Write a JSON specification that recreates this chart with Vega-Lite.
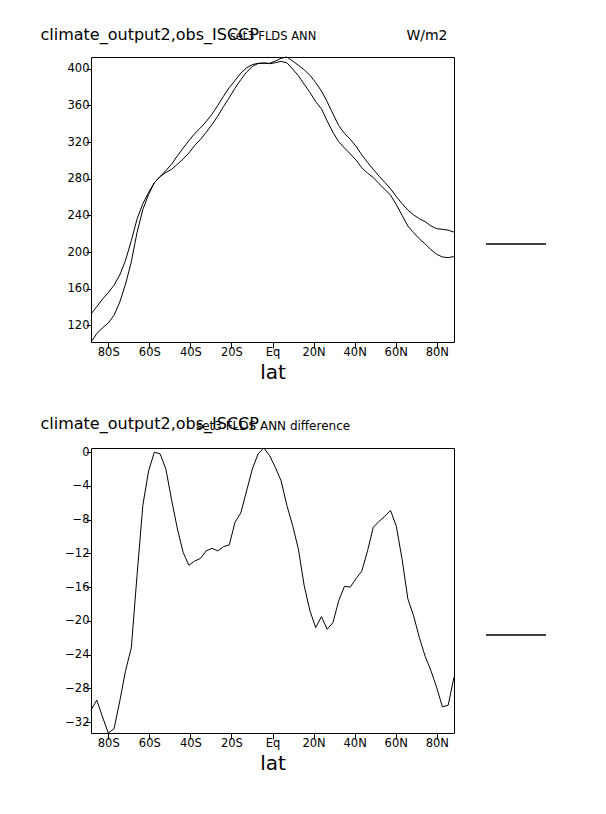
{
  "$schema": "https://vega.github.io/schema/vega-lite/v6.json",
  "background": "white",
  "padding": {"left": 40, "top": 26, "right": 5, "bottom": 5},
  "config": {
    "view": {"stroke": null},
    "font": "DejaVu Sans",
    "axis": {"grid": false, "domainColor": "black", "domainWidth": 1, "tickColor": "black", "labelColor": "black", "titleColor": "black", "labelFontSize": 11.5, "titleFontWeight": "normal", "labelFont": "DejaVu Sans", "titleFont": "DejaVu Sans"}
  },
  "datasets": {
    "top": [
      {"lat": -88.4, "obs": 132.4, "model": 101.8},
      {"lat": -85.59, "obs": 140.3, "model": 110.9},
      {"lat": -82.79, "obs": 148.7, "model": 117.3},
      {"lat": -79.98, "obs": 155.8, "model": 122.5},
      {"lat": -77.18, "obs": 163.8, "model": 131.0},
      {"lat": -74.37, "obs": 175.0, "model": 145.5},
      {"lat": -71.56, "obs": 191.0, "model": 165.1},
      {"lat": -68.76, "obs": 212.5, "model": 189.3},
      {"lat": -65.95, "obs": 236.2, "model": 221.7},
      {"lat": -63.15, "obs": 252.7, "model": 246.4},
      {"lat": -60.34, "obs": 265.1, "model": 262.9},
      {"lat": -57.53, "obs": 275.7, "model": 275.7},
      {"lat": -54.73, "obs": 282.5, "model": 282.3},
      {"lat": -51.92, "obs": 288.9, "model": 286.9},
      {"lat": -49.12, "obs": 296.0, "model": 290.3},
      {"lat": -46.31, "obs": 305.0, "model": 295.9},
      {"lat": -43.50, "obs": 313.5, "model": 301.6},
      {"lat": -40.70, "obs": 321.6, "model": 308.2},
      {"lat": -37.89, "obs": 329.3, "model": 316.4},
      {"lat": -35.09, "obs": 335.5, "model": 322.9},
      {"lat": -32.28, "obs": 342.5, "model": 330.8},
      {"lat": -29.47, "obs": 350.5, "model": 339.1},
      {"lat": -26.67, "obs": 360.0, "model": 348.3},
      {"lat": -23.86, "obs": 370.0, "model": 358.8},
      {"lat": -21.06, "obs": 379.5, "model": 368.5},
      {"lat": -18.25, "obs": 387.2, "model": 378.9},
      {"lat": -15.44, "obs": 395.3, "model": 388.1},
      {"lat": -12.64, "obs": 401.0, "model": 396.4},
      {"lat": -9.83, "obs": 404.6, "model": 402.6},
      {"lat": -7.03, "obs": 406.0, "model": 405.8},
      {"lat": -4.22, "obs": 406.0, "model": 406.5},
      {"lat": -1.41, "obs": 406.0, "model": 405.6},
      {"lat": 1.39, "obs": 408.5, "model": 406.7},
      {"lat": 4.20, "obs": 411.5, "model": 408.1},
      {"lat": 7.00, "obs": 412.9, "model": 406.6},
      {"lat": 9.81, "obs": 408.5, "model": 399.8},
      {"lat": 12.62, "obs": 403.9, "model": 392.4},
      {"lat": 15.42, "obs": 399.0, "model": 383.2},
      {"lat": 18.23, "obs": 393.0, "model": 374.2},
      {"lat": 21.03, "obs": 385.0, "model": 364.2},
      {"lat": 23.84, "obs": 375.8, "model": 356.3},
      {"lat": 26.65, "obs": 364.0, "model": 343.0},
      {"lat": 29.45, "obs": 350.8, "model": 330.6},
      {"lat": 32.26, "obs": 338.0, "model": 320.4},
      {"lat": 35.06, "obs": 329.5, "model": 313.6},
      {"lat": 37.87, "obs": 323.1, "model": 307.1},
      {"lat": 40.68, "obs": 315.4, "model": 300.4},
      {"lat": 43.48, "obs": 306.1, "model": 292.0},
      {"lat": 46.29, "obs": 297.8, "model": 286.1},
      {"lat": 49.09, "obs": 290.3, "model": 281.4},
      {"lat": 51.90, "obs": 282.8, "model": 274.6},
      {"lat": 54.71, "obs": 276.0, "model": 268.4},
      {"lat": 57.51, "obs": 269.0, "model": 262.1},
      {"lat": 60.32, "obs": 260.5, "model": 251.7},
      {"lat": 63.12, "obs": 252.8, "model": 240.1},
      {"lat": 65.93, "obs": 245.8, "model": 228.4},
      {"lat": 68.73, "obs": 240.5, "model": 221.1},
      {"lat": 71.54, "obs": 236.4, "model": 214.4},
      {"lat": 74.35, "obs": 233.1, "model": 208.9},
      {"lat": 77.15, "obs": 228.5, "model": 202.6},
      {"lat": 79.96, "obs": 225.5, "model": 197.6},
      {"lat": 82.76, "obs": 224.8, "model": 194.6},
      {"lat": 85.57, "obs": 223.9, "model": 193.9},
      {"lat": 88.37, "obs": 221.8, "model": 195.1}
    ],
    "diff": [
      {"lat": -88.4, "diff": -30.6},
      {"lat": -85.59, "diff": -29.4},
      {"lat": -82.79, "diff": -31.4},
      {"lat": -79.98, "diff": -33.3},
      {"lat": -77.18, "diff": -32.8},
      {"lat": -74.37, "diff": -29.5},
      {"lat": -71.56, "diff": -25.9},
      {"lat": -68.76, "diff": -23.2},
      {"lat": -65.95, "diff": -14.5},
      {"lat": -63.15, "diff": -6.3},
      {"lat": -60.34, "diff": -2.2},
      {"lat": -57.53, "diff": 0.0},
      {"lat": -54.73, "diff": -0.2},
      {"lat": -51.92, "diff": -2.0},
      {"lat": -49.12, "diff": -5.7},
      {"lat": -46.31, "diff": -9.1},
      {"lat": -43.50, "diff": -11.9},
      {"lat": -40.70, "diff": -13.4},
      {"lat": -37.89, "diff": -12.9},
      {"lat": -35.09, "diff": -12.6},
      {"lat": -32.28, "diff": -11.7},
      {"lat": -29.47, "diff": -11.4},
      {"lat": -26.67, "diff": -11.7},
      {"lat": -23.86, "diff": -11.2},
      {"lat": -21.06, "diff": -11.0},
      {"lat": -18.25, "diff": -8.3},
      {"lat": -15.44, "diff": -7.2},
      {"lat": -12.64, "diff": -4.6},
      {"lat": -9.83, "diff": -2.0},
      {"lat": -7.03, "diff": -0.2},
      {"lat": -4.22, "diff": 0.5},
      {"lat": -1.41, "diff": -0.4},
      {"lat": 1.39, "diff": -1.8},
      {"lat": 4.20, "diff": -3.4},
      {"lat": 7.00, "diff": -6.3},
      {"lat": 9.81, "diff": -8.7},
      {"lat": 12.62, "diff": -11.5},
      {"lat": 15.42, "diff": -15.8},
      {"lat": 18.23, "diff": -18.8},
      {"lat": 21.03, "diff": -20.8},
      {"lat": 23.84, "diff": -19.5},
      {"lat": 26.65, "diff": -21.0},
      {"lat": 29.45, "diff": -20.2},
      {"lat": 32.26, "diff": -17.6},
      {"lat": 35.06, "diff": -15.9},
      {"lat": 37.87, "diff": -16.0},
      {"lat": 40.68, "diff": -15.0},
      {"lat": 43.48, "diff": -14.1},
      {"lat": 46.29, "diff": -11.7},
      {"lat": 49.09, "diff": -8.9},
      {"lat": 51.90, "diff": -8.2},
      {"lat": 54.71, "diff": -7.6},
      {"lat": 57.51, "diff": -6.9},
      {"lat": 60.32, "diff": -8.8},
      {"lat": 63.12, "diff": -12.7},
      {"lat": 65.93, "diff": -17.4},
      {"lat": 68.73, "diff": -19.4},
      {"lat": 71.54, "diff": -22.0},
      {"lat": 74.35, "diff": -24.2},
      {"lat": 77.15, "diff": -25.9},
      {"lat": 79.96, "diff": -27.9},
      {"lat": 82.76, "diff": -30.2},
      {"lat": 85.57, "diff": -30.0},
      {"lat": 88.37, "diff": -26.7}
    ]
  },
  "vconcat": [
    {
      "width": 363,
      "height": 285,
      "data": {"name": "top"},
      "layer": [
        {
          "mark": {"type": "line", "strokeWidth": 1},
          "encoding": {
            "x": {"field": "lat", "type": "quantitative",
              "scale": {"domain": [-88.4, 88.4], "nice": false, "zero": false},
              "axis": {"orient": "bottom", "values": [-80, -60, -40, -20, 0, 20, 40, 60, 80],
                "labelExpr": "datum.value < 0 ? (-datum.value) + 'S' : (datum.value > 0 ? datum.value + 'N' : 'Eq')",
                "tickSize": 6, "labelPadding": -2, "title": "lat", "titleFontSize": 20, "titlePadding": 5}},
            "y": {"field": "obs", "type": "quantitative",
              "scale": {"domain": [101.8, 412.9], "nice": false, "zero": false},
              "axis": {"orient": "left", "values": [120, 160, 200, 240, 280, 320, 360, 400],
                "tickSize": 5, "labelPadding": -3,
                "title": "set3 FLDS ANN", "titleAngle": 0, "titleX": 181.5, "titleY": -18, "titleAlign": "center", "titleBaseline": "alphabetic", "titleFontSize": 11.5}},
            "stroke": {"datum": "obs", "scale": {"range": ["black"]},
              "legend": {"orient": "none", "legendX": 394, "legendY": 156, "title": null, "symbolType": "stroke", "symbolSize": 3600, "symbolStrokeWidth": 1.5, "labelExpr": "''", "padding": 0}}
          }
        },
        {
          "mark": {"type": "line", "strokeWidth": 1, "stroke": "black"},
          "encoding": {
            "x": {"field": "lat", "type": "quantitative",
              "axis": {"orient": "top", "labels": false, "ticks": false,
                "title": "climate_output2,obs_ISCCP", "titleX": -51, "titleY": -18, "titleAlign": "left", "titleBaseline": "alphabetic", "titleFontSize": 16}},
            "y": {"field": "model", "type": "quantitative",
              "axis": {"orient": "right", "labels": false, "ticks": false,
                "title": "W/m2", "titleAngle": 0, "titleX": -7, "titleY": -18, "titleAlign": "right", "titleBaseline": "alphabetic", "titleFontSize": 14}}
          }
        }
      ],
      "resolve": {"axis": {"x": "independent", "y": "independent"}}
    },
    {
      "width": 363,
      "height": 285,
      "data": {"name": "diff"},
      "layer": [
        {
          "mark": {"type": "line", "strokeWidth": 1},
          "encoding": {
            "x": {"field": "lat", "type": "quantitative",
              "scale": {"domain": [-88.4, 88.4], "nice": false, "zero": false},
              "axis": {"orient": "bottom", "values": [-80, -60, -40, -20, 0, 20, 40, 60, 80],
                "labelExpr": "datum.value < 0 ? (-datum.value) + 'S' : (datum.value > 0 ? datum.value + 'N' : 'Eq')",
                "tickSize": 6, "labelPadding": -2, "title": "lat", "titleFontSize": 20, "titlePadding": 5}},
            "y": {"field": "diff", "type": "quantitative",
              "scale": {"domain": [-33.3, 0.5], "nice": false, "zero": false},
              "axis": {"orient": "left", "values": [-32, -28, -24, -20, -16, -12, -8, -4, 0],
                "tickSize": 5, "labelPadding": -3,
                "title": "set3 FLDS ANN difference", "titleAngle": 0, "titleX": 181.5, "titleY": -19, "titleAlign": "center", "titleBaseline": "alphabetic", "titleFontSize": 12}},
            "stroke": {"datum": "diff", "scale": {"range": ["black"]},
              "legend": {"orient": "none", "legendX": 394, "legendY": 156, "title": null, "symbolType": "stroke", "symbolSize": 3600, "symbolStrokeWidth": 1.5, "labelExpr": "''", "padding": 0}}
          }
        },
        {
          "mark": {"type": "line", "strokeWidth": 1, "stroke": "black", "strokeOpacity": 0},
          "encoding": {
            "x": {"field": "lat", "type": "quantitative",
              "axis": {"orient": "top", "labels": false, "ticks": false,
                "title": "climate_output2,obs_ISCCP", "titleX": -51, "titleY": -20, "titleAlign": "left", "titleBaseline": "alphabetic", "titleFontSize": 16}},
            "y": {"field": "diff", "type": "quantitative",
              "axis": {"orient": "right", "labels": false, "ticks": false, "title": null}}
          }
        }
      ],
      "resolve": {"axis": {"x": "independent", "y": "independent"}}
    }
  ],
  "spacing": 32,
  "resolve": {"scale": {"stroke": "independent"}, "legend": {"stroke": "independent"}}
}
